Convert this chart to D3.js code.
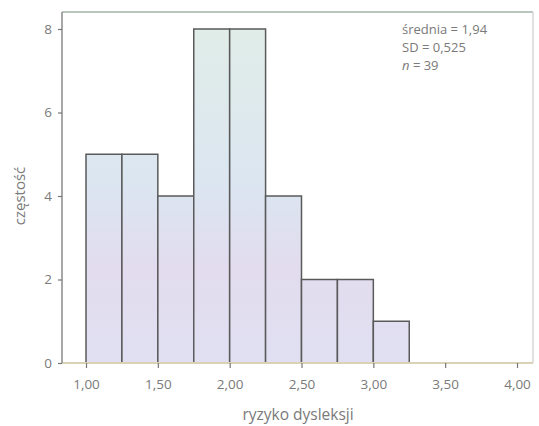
<!DOCTYPE html>
<html>
<head>
<meta charset="utf-8">
<script src="https://cdn.jsdelivr.net/npm/d3@7"></script>
<style>
  body { margin: 0; background: #fff; }
  text { font-family: "Open Sans", sans-serif; fill: #7a7a7a; }
</style>
</head>
<body>
<svg id="chart" width="539" height="426"></svg>
<script>
// histogram bins (lower edge) and counts
var binStarts = [1.00, 1.25, 1.50, 1.75, 2.00, 2.25, 2.50, 2.75, 3.00];
var counts = [5, 5, 4, 8, 8, 4, 2, 2, 1];
var binWidth = 0.25;
var xTicks = [1.0, 1.5, 2.0, 2.5, 3.0, 3.5, 4.0];
var yTicks = [0, 2, 4, 6, 8];
var statLines = ["średnia = 1,94", "SD = 0,525", "= 39"];

var svg = d3.select("#chart");
var fmt = function(d) { return d.toFixed(2).replace(".", ","); };

var x = d3.scaleLinear().domain([1, 4]).range([86, 517]);
var y = d3.scaleLinear().domain([0, 8]).range([363, 29]);
var plotL = 62, plotR = 533, plotT = 12, plotB = 363;

// gradient for bar fill
var grad = svg.append("defs").append("linearGradient")
    .attr("id", "barFill")
    .attr("gradientUnits", "userSpaceOnUse")
    .attr("x1", 0).attr("y1", y(8)).attr("x2", 0).attr("y2", y(0));
grad.append("stop").attr("offset", "0%").attr("stop-color", "#e1ede8");
grad.append("stop").attr("offset", "45%").attr("stop-color", "#dbe6f1");
grad.append("stop").attr("offset", "72%").attr("stop-color", "#e2dcee");
grad.append("stop").attr("offset", "100%").attr("stop-color", "#e0e0f2");

// frame
svg.append("line").attr("x1", plotL).attr("x2", plotR).attr("y1", plotT).attr("y2", plotT)
    .attr("stroke", "#b9c6bd").attr("stroke-width", 2);
svg.append("line").attr("x1", plotR).attr("x2", plotR).attr("y1", plotT).attr("y2", plotB)
    .attr("stroke", "#d6d6d6").attr("stroke-width", 1.5);

// bars
svg.append("g").selectAll("rect")
    .data(binStarts)
    .join("rect")
    .attr("x", function(d) { return x(d); })
    .attr("y", function(d, i) { return y(counts[i]); })
    .attr("width", function(d) { return x(d + binWidth) - x(d); })
    .attr("height", function(d, i) { return y(0) - y(counts[i]); })
    .attr("fill", "url(#barFill)")
    .attr("stroke", "#5a5a5a")
    .attr("stroke-width", 1.5);

// x axis
svg.append("line").attr("x1", plotL).attr("x2", plotR).attr("y1", plotB).attr("y2", plotB)
    .attr("stroke", "#d9d2b4").attr("stroke-width", 2);
var xAxis = svg.append("g")
    .attr("transform", "translate(0," + plotB + ")")
    .call(d3.axisBottom(x).tickValues(xTicks).tickFormat(fmt).tickSize(5).tickPadding(11));
xAxis.select(".domain").remove();
xAxis.selectAll("line").attr("stroke", "#777").attr("stroke-width", 1.2);
xAxis.selectAll("text").attr("font-size", 13.5).attr("fill", "#7a7a7a")
    .style("font-family", "'Open Sans', sans-serif");

// y axis
svg.append("line").attr("x1", plotL).attr("x2", plotL).attr("y1", plotT).attr("y2", plotB)
    .attr("stroke", "#8a8a8a").attr("stroke-width", 1.5);
var yAxis = svg.append("g")
    .attr("transform", "translate(" + plotL + ",0)")
    .call(d3.axisLeft(y).tickValues(yTicks).tickSize(4).tickPadding(6));
yAxis.select(".domain").remove();
yAxis.selectAll("line").attr("stroke", "#777").attr("stroke-width", 1.2);
yAxis.selectAll("text").attr("font-size", 13.5).attr("fill", "#7a7a7a")
    .style("font-family", "'Open Sans', sans-serif");

// axis titles
svg.append("text")
    .attr("x", 298).attr("y", 420)
    .attr("text-anchor", "middle")
    .attr("font-size", 15.5)
    .attr("fill", "#6e6e6e")
    .text("ryzyko dysleksji");
svg.append("text")
    .attr("transform", "translate(25,196) rotate(-90)")
    .attr("text-anchor", "middle")
    .attr("font-size", 15)
    .attr("fill", "#6e6e6e")
    .text("częstość");

// stats box
var stats = svg.append("g").attr("font-size", 13);
stats.append("text").attr("x", 402).attr("y", 34).text(statLines[0]);
stats.append("text").attr("x", 402).attr("y", 52).text(statLines[1]);
var nText = stats.append("text").attr("x", 402).attr("y", 70);
nText.append("tspan").attr("font-style", "italic").text("n ");
nText.append("tspan").text(statLines[2]);
</script>
</body>
</html>
